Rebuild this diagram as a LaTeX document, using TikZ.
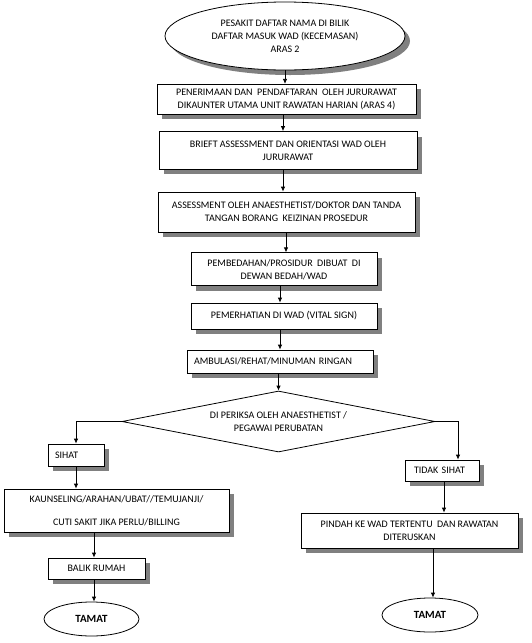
\documentclass[tikz,border=0pt]{standalone}
\usepackage{fontspec}
\setmainfont{Carlito}
\usetikzlibrary{shapes.geometric,shadows,arrows.meta}
\begin{document}
\begin{tikzpicture}[x=1pt,y=-1pt,
  shad/.style={drop shadow={shadow xshift=5pt,shadow yshift=-5pt,fill=black!50,opacity=1}},
  txt/.style={font=\fontsize{10}{13}\selectfont},
  box/.style={draw,fill=white,line width=0.8pt,inner sep=0pt,align=center,txt,shad},
  lbox/.style={draw,fill=white,line width=0.8pt,inner ysep=0pt,align=left,txt,shad},
  oval/.style={ellipse,draw,fill=white,line width=0.8pt,inner sep=0pt,align=center},
  decide/.style={diamond,draw,fill=white,line width=0.8pt,inner sep=0pt,aspect=5,align=center,txt},
  arr/.style={line width=0.8pt,-{Latex[length=5pt,width=4.5pt]}}
]
\useasboundingbox (0,0) rectangle (532,643);
\fill[white] (0,0) rectangle (532,643);

\node[oval,shad,txt,minimum width=240pt,minimum height=68pt] (e1) at (285,36)
  {PESAKIT DAFTAR NAMA DI BILIK\\DAFTAR MASUK WAD (KECEMASAN)\\ARAS 2};
\node[box,minimum width=259pt,minimum height=30pt] (b1) at (286.5,99.3)
  {PENERIMAAN DAN \ PENDAFTARAN \ OLEH JURURAWAT\\DIKAUNTER UTAMA UNIT RAWATAN HARIAN (ARAS 4)};
\node[box,minimum width=258pt,minimum height=37.5pt] (b2) at (288,150.3)
  {BRIEFT ASSESSMENT DAN ORIENTASI WAD OLEH\\JURURAWAT};
\node[box,minimum width=257pt,minimum height=40pt] (b3) at (286.5,212)
  {ASSESSMENT OLEH ANAESTHETIST/DOKTOR DAN TANDA\\TANGAN BORANG \ KEIZINAN PROSEDUR};
\node[box,minimum width=186pt,minimum height=33pt] (b4) at (284,269.3)
  {PEMBEDAHAN/PROSIDUR \ DIBUAT \ DI\\DEWAN BEDAH/WAD};
\node[box,minimum width=186pt,minimum height=26pt] (b5) at (284,316)
  {PEMERHATIAN DI WAD (VITAL SIGN)};
\node[lbox,text width=172pt,inner xsep=7pt,minimum height=23pt] (b6) at (280,361.5)
  {AMBULASI/REHAT/MINUMAN RINGAN};
\node[decide,minimum width=313pt,minimum height=61pt] (d) at (278.5,421.5)
  {DI PERIKSA OLEH ANAESTHETIST /\\PEGAWAI PERUBATAN};
\node[lbox,text width=42pt,inner xsep=7pt,minimum height=22pt] (s1) at (76,455) {SIHAT};
\node[lbox,text width=56pt,inner xsep=9pt,minimum height=21pt] (t1) at (442,470.5) {TIDAK SIHAT};
\node[box,minimum width=225pt,minimum height=43pt] (k1) at (116.5,510.5)
  {KAUNSELING/ARAHAN/UBAT//TEMUJANJI/\\[10pt]CUTI SAKIT JIKA PERLU/BILLING};
\node[box,minimum width=97pt,minimum height=21pt] (r1) at (96.5,568.5) {BALIK RUMAH};
\node[box,minimum width=217pt,minimum height=35pt] (p1) at (409.5,530.5)
  {PINDAH KE WAD TERTENTU \ DAN RAWATAN\\DITERUSKAN};
\node[oval,font=\bfseries\fontsize{11}{13}\selectfont,minimum width=95pt,minimum height=34pt] (tm1) at (91.5,619) {TAMAT};
\node[oval,font=\bfseries\fontsize{11}{13}\selectfont,minimum width=96pt,minimum height=34pt] (tm2) at (430,615) {TAMAT};

\coordinate (a2) at (283,0);
\coordinate (a4) at (286,0);
\coordinate (a5) at (280,0);
\coordinate (a9) at (94,0);
\coordinate (a10) at (444,0);
\coordinate (a11) at (433,0);
\coordinate (rb) at (458,421.5);

\draw[arr] (e1.south) -- (e1.south |- b1.north);
\draw[arr] (b1.south -| a2) -- (b2.north -| a2);
\draw[arr] (b2.south -| a2) -- (b3.north -| a2);
\draw[arr] (b3.south -| a4) -- (b4.north -| a4);
\draw[arr] (b4.south -| a5) -- (b5.north -| a5);
\draw[arr] (b5.south -| a5) -- (b6.north -| a5);
\draw[arr] (b6.south -| d.north) -- (d.north);
\draw[arr] (d.west) -| (s1.north);
\draw[arr] (d.east) -- (rb) -- (rb |- t1.north);
\draw[arr] (s1.south) -- (s1.south |- k1.north);
\draw[arr] (k1.south -| a9) -- (r1.north -| a9);
\draw[arr] (r1.south -| a9) -- (tm1.north -| a9);
\draw[arr] (t1.south -| a10) -- (p1.north -| a10);
\draw[arr] (p1.south -| a11) -- (tm2.north -| a11);
\end{tikzpicture}
\end{document}
